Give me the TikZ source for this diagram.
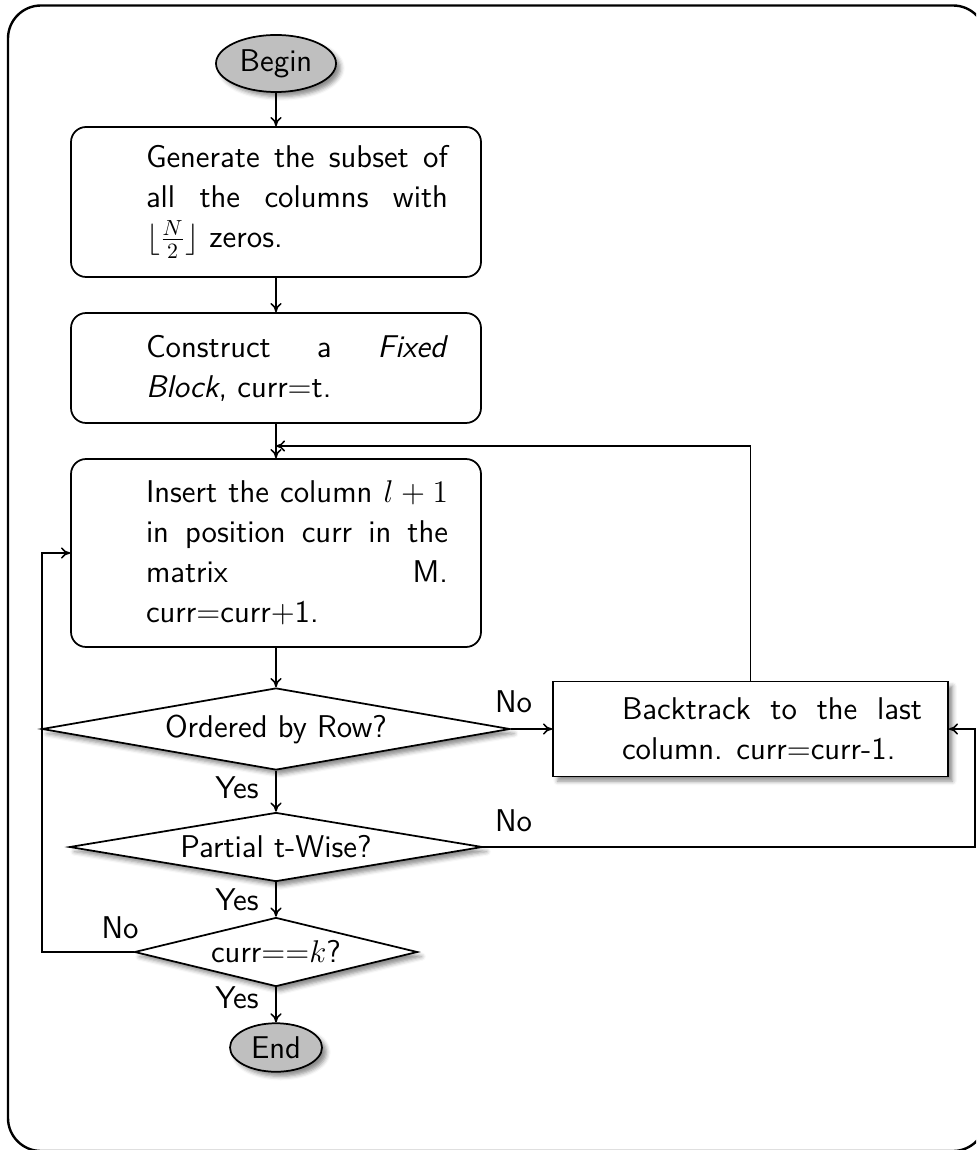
\documentclass[tikz,border=0pt]{standalone}
\usetikzlibrary{shapes.geometric,shadows.blur,arrows.meta}
\newlength\pxu
\setlength\pxu{0.458pt}
\begin{document}
\begin{tikzpicture}[x=0.458pt, y=-0.458pt,
  every node/.style={font=\sffamily\fontsize{14.4}{18.3}\selectfont},
  softshadow/.style={blur shadow={shadow xshift=2.1pt, shadow yshift=-2.1pt,
      shadow blur radius=1.9pt, shadow opacity=45}},
  terminal/.style={ellipse, draw, line width=0.8pt, fill=black!25, inner sep=0pt, softshadow},
  procbox/.style={rectangle, draw, line width=0.8pt, rounded corners=6.9pt, inner sep=0pt,
      minimum width=410*\pxu, text width=344*\pxu, align=justify},
  decision/.style={diamond, draw, line width=0.8pt, fill=white, inner sep=0pt, softshadow},
  plainbox/.style={rectangle, draw, line width=0.8pt, fill=white, inner sep=0pt, softshadow,
      minimum width=395*\pxu, text width=343*\pxu, align=justify},
  lbl/.style={inner sep=0pt},
  arr/.style={line width=0.7pt, -{To[length=4.2pt,width=5.2pt]}}
]
\useasboundingbox (0,0) rectangle (976,1150);
\clip (0,0) rectangle (976,1150);

% outer frame
\draw[line width=1.1pt, rounded corners=15.1pt] (8,5.5) rectangle (986,1151);

% steps of the search
\node[terminal, minimum width=120*\pxu, minimum height=57*\pxu] (begin) at (276,63.5) {Begin};

\node[procbox, minimum height=150*\pxu] (gen) at (276,202)
  {\hangindent=42\pxu\hangafter=0 Generate the subset of\linebreak all the columns with\linebreak $\lfloor\frac{N}{2}\rfloor$ zeros.\par};

\node[procbox, minimum height=110*\pxu] (cons) at (276,368)
  {\hangindent=42\pxu\hangafter=0 Construct a \textit{Fixed}\linebreak \textit{Block}, curr=t.\par};

\node[procbox, minimum height=188*\pxu] (ins) at (276,553)
  {\hangindent=42\pxu\hangafter=0 Insert the column $l+1$\linebreak in position curr in the\linebreak matrix M.\linebreak curr=curr+1.\par};

\node[decision, minimum width=468*\pxu, minimum height=82*\pxu, aspect=5.7] (ord) at (276,729) {Ordered by Row?};

\node[plainbox, minimum height=95*\pxu] (bt) at (750.5,729)
  {\hangindent=43\pxu\hangafter=0 Backtrack to the last\linebreak column. curr=curr-1.\par};

\node[decision, minimum width=413*\pxu, minimum height=69*\pxu, aspect=6] (part) at (276,847) {Partial t-Wise?};

\node[decision, minimum width=283*\pxu, minimum height=69*\pxu, aspect=4.1] (curr) at (276,952) {curr==$k$?};

\node[terminal, minimum width=92*\pxu, minimum height=48.5*\pxu] (end) at (276,1047.5) {End};

% branch labels
\node[lbl, anchor=base] (noA) at (513.5,712) {No};
\node[lbl, anchor=base] (noB) at (513.5,831.7) {No};
\node[lbl, anchor=base] (noC) at (120,938) {No};
\node[lbl, anchor=base east] (yesA) at (259,798) {Yes};
\node[lbl, anchor=base east] (yesB) at (259,910.7) {Yes};
\node[lbl, anchor=base east] (yesC) at (259,1008.3) {Yes};

% bend points of the loops
\coordinate (join) at (276,446);
\coordinate (rloop) at (975,847);
\coordinate (lloop) at (42,952);

% connectors
\draw[arr] (begin) -- (gen);
\draw[arr] (gen) -- (cons);
\draw[arr] (cons) -- (ins);
\draw[arr] (ins) -- (ord);
\draw[arr] (ord) -- (part);
\draw[arr] (part) -- (curr);
\draw[arr] (curr) -- (end);
\draw[arr] (ord.east) -- (bt.west);
\draw[arr] (bt.north) |- (join);
\draw[arr] (part.east) -- (rloop) |- (bt.east);
\draw[arr] (curr.west) -- (lloop) |- (ins.west);
\end{tikzpicture}
\end{document}
